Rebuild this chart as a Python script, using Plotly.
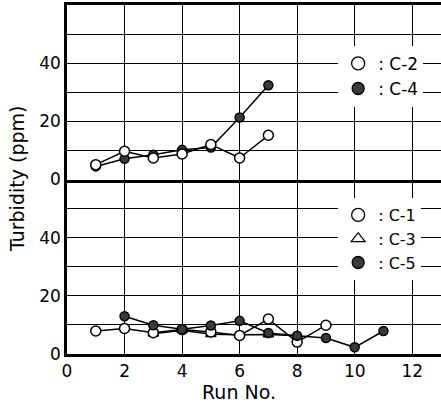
import plotly.graph_objects as go

runs_top = [1, 2, 3, 4, 5, 6, 7]
c2 = [5.1, 9.7, 7.4, 8.8, 12.0, 7.4, 15.2]
c4 = [4.5, 7.1, 8.5, 10.2, 11.0, 21.3, 32.4]

runs_c1 = [1, 2, 3, 4, 5, 6, 7, 8, 9]
c1 = [7.9, 8.8, 7.3, 8.4, 7.6, 6.4, 12.0, 4.1, 9.9]
runs_c3 = [3, 4, 5, 6, 7, 8]
c3 = [7.0, 8.2, 6.8, 6.6, 6.7, 6.3]
runs_c5 = [2, 3, 4, 5, 6, 7, 8, 9, 10, 11]
c5 = [13.0, 9.9, 8.5, 9.8, 11.4, 7.2, 6.3, 5.5, 2.3, 7.9]

x_ticks = [0, 2, 4, 6, 8, 10, 12]
y_grid = [0, 10, 20, 30, 40, 50]
y_text = ["0", "", "20", "", "40", ""]

FONT = "DejaVu Sans, sans-serif"
FILL = "#3a3a3a"

open_circle = dict(symbol="circle", size=10, color="white", line=dict(color="black", width=1.5))
filled_circle = dict(symbol="circle", size=9, color=FILL, line=dict(color="black", width=1.5))
open_tri = dict(symbol="triangle-up", size=9, color="white", line=dict(color="black", width=1.5))
line = dict(color="black", width=1.5)

fig = go.Figure()
# upper panel
fig.add_trace(go.Scatter(x=runs_top, y=c4, mode="lines+markers", line=line, marker=filled_circle,
                         xaxis="x2", yaxis="y2", showlegend=False))
fig.add_trace(go.Scatter(x=runs_top, y=c2, mode="lines+markers", line=line, marker=open_circle,
                         xaxis="x2", yaxis="y2", showlegend=False))
# lower panel
fig.add_trace(go.Scatter(x=runs_c3, y=c3, mode="lines+markers", line=line, marker=open_tri,
                         xaxis="x", yaxis="y", showlegend=False))
fig.add_trace(go.Scatter(x=runs_c1, y=c1, mode="lines+markers", line=line, marker=open_circle,
                         xaxis="x", yaxis="y", showlegend=False))
fig.add_trace(go.Scatter(x=runs_c5, y=c5, mode="lines+markers", line=line, marker=filled_circle,
                         xaxis="x", yaxis="y", showlegend=False))

# legend entries
leg_open = dict(symbol="circle", size=13, color="white", line=dict(color="black", width=1.3))
leg_fill = dict(symbol="circle", size=12, color=FILL, line=dict(color="black", width=1.3))
leg_tri = dict(symbol="triangle-up", size=12, color="white", line=dict(color="black", width=1.3))
fig.add_trace(go.Scatter(x=[None], y=[None], mode="markers", marker=leg_open, name=": C-2",
                         xaxis="x2", yaxis="y2", legend="legend"))
fig.add_trace(go.Scatter(x=[None], y=[None], mode="markers", marker=leg_fill, name=": C-4",
                         xaxis="x2", yaxis="y2", legend="legend"))
fig.add_trace(go.Scatter(x=[None], y=[None], mode="markers", marker=leg_open, name=": C-1",
                         legend="legend2"))
fig.add_trace(go.Scatter(x=[None], y=[None], mode="markers", marker=leg_tri, name=": C-3",
                         legend="legend2"))
fig.add_trace(go.Scatter(x=[None], y=[None], mode="markers", marker=leg_fill, name=": C-5",
                         legend="legend2"))

tickfont = dict(family=FONT, size=17, color="black")
xcommon = dict(range=[0, 13], tickmode="array", tickvals=x_ticks, showgrid=True,
               gridcolor="black", gridwidth=1, zeroline=False, showline=True,
               linecolor="black", linewidth=2.5, ticks="", tickfont=tickfont, automargin=False)
ycommon = dict(range=[0, 60], tickmode="array", tickvals=y_grid, ticktext=y_text,
               showgrid=True, gridcolor="black", gridwidth=1, zeroline=False,
               showline=True, linecolor="black", linewidth=2.5, ticks="", tickfont=tickfont,
               automargin=False)

fig.update_layout(
    width=441, height=406,
    margin=dict(l=67, r=0, t=5, b=52, autoexpand=False),
    paper_bgcolor="white", plot_bgcolor="white",
    xaxis=dict(**xcommon, anchor="y", domain=[0, 1]),
    xaxis2=dict(**xcommon, anchor="y2", matches="x", showticklabels=False, mirror=True),
    yaxis=dict(**ycommon, domain=[0, 0.5], anchor="x"),
    yaxis2=dict(**ycommon, domain=[0.5, 1], anchor="x2"),
    legend=dict(x=0.725, y=0.883, xanchor="left", yanchor="top", bgcolor="white",
                font=dict(family=FONT, size=17, color="black"), itemsizing="trace", tracegroupgap=0),
    legend2=dict(x=0.725, y=0.447, xanchor="left", yanchor="top", bgcolor="white",
                 font=dict(family=FONT, size=16, color="black"), itemsizing="trace", tracegroupgap=0),
    annotations=[
        dict(text="Turbidity (ppm)", textangle=-90, xref="paper", yref="paper",
             x=-0.135, y=0.5, xanchor="center", yanchor="middle", showarrow=False,
             font=dict(family=FONT, size=19, color="black")),
        dict(text="Run No.", xref="paper", yref="paper", x=0.46, y=-0.11,
             xanchor="center", yanchor="middle", showarrow=False,
             font=dict(family=FONT, size=19, color="black")),
    ],
)

fig.write_html("out.html", config={"displayModeBar": False},
               post_script="document.body.style.margin='0';")
